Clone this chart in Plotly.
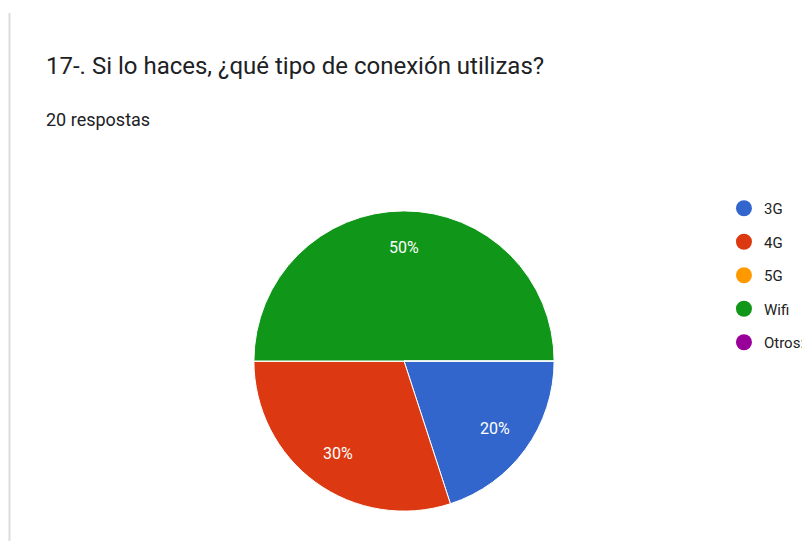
import math
import plotly.graph_objects as go

title_text = "17-. Si lo haces, ¿qué tipo de conexión utilizas?"
subtitle_text = "20 respostas"
labels = ["3G", "4G", "5G", "Wifi", "Otros:"]
values = [4, 6, 0, 10, 0]
colors = ["#3366cc", "#dc3912", "#ff9900", "#109618", "#990099"]

# page body has an 8px margin, so the figure is laid out in its own pixel frame
W, H = 802, 533
CX, CY, R = 401, 353, 152  # pie centre and radius in figure pixels

fig = go.Figure()
fig.add_trace(go.Pie(
    labels=labels, values=values, sort=False, direction="clockwise", rotation=90,
    marker=dict(colors=colors, line=dict(color="white", width=1)),
    textinfo="none", showlegend=False, hoverinfo="label+percent",
    domain=dict(x=[(CX - R) / W, (CX + R) / W], y=[(H - CY - R) / H, (H - CY + R) / H]),
))

# percentage labels at 3/4 of the radius, the way the source chart places them
annotations = []
total = sum(values)
start = 0.0
for v in values:
    if v > 0:
        mid = (start + v / 2) / total * 2 * math.pi  # clockwise from 3 o'clock
        px = CX + 0.75 * R * math.cos(mid)
        py = CY + 0.75 * R * math.sin(mid)
        annotations.append(dict(
            text=f"{round(100 * v / total)}%", x=px / W, y=1 - py / H,
            xref="paper", yref="paper", showarrow=False,
            xanchor="center", yanchor="middle",
            font=dict(family="Roboto", size=16, color="white")))
    start += v

for i, (lab, col) in enumerate(zip(labels, colors)):
    fig.add_trace(go.Scatter(
        x=[None], y=[None], mode="markers", name=lab, legendgroup=f"g{i}",
        marker=dict(color=col, size=16, symbol="circle"),
    ))

annotations += [
    dict(text=title_text, x=36 / W, y=1 - 58 / H, xref="paper", yref="paper",
         xanchor="left", yanchor="middle", showarrow=False,
         font=dict(family="Roboto", size=24, color="#202124")),
    dict(text=subtitle_text, x=36 / W, y=1 - 111 / H, xref="paper", yref="paper",
         xanchor="left", yanchor="middle", showarrow=False,
         font=dict(family="Roboto", size=18, color="#202124")),
]

fig.update_layout(
    width=W, height=H, margin=dict(l=0, r=0, t=0, b=0),
    paper_bgcolor="white", plot_bgcolor="white",
    xaxis=dict(visible=False), yaxis=dict(visible=False),
    legend=dict(x=725 / W, y=1 - 184 / H, xanchor="left", yanchor="top",
                font=dict(family="Roboto", size=15, color="#222222"),
                tracegroupgap=11, itemsizing="trace", bgcolor="rgba(0,0,0,0)"),
    annotations=annotations,
    shapes=[dict(type="line", xref="paper", yref="paper", x0=1.5 / W, x1=1.5 / W,
                 y0=0, y1=1 - 5 / H, line=dict(color="#dadce0", width=2))],
)

fig.write_html("out.html")
